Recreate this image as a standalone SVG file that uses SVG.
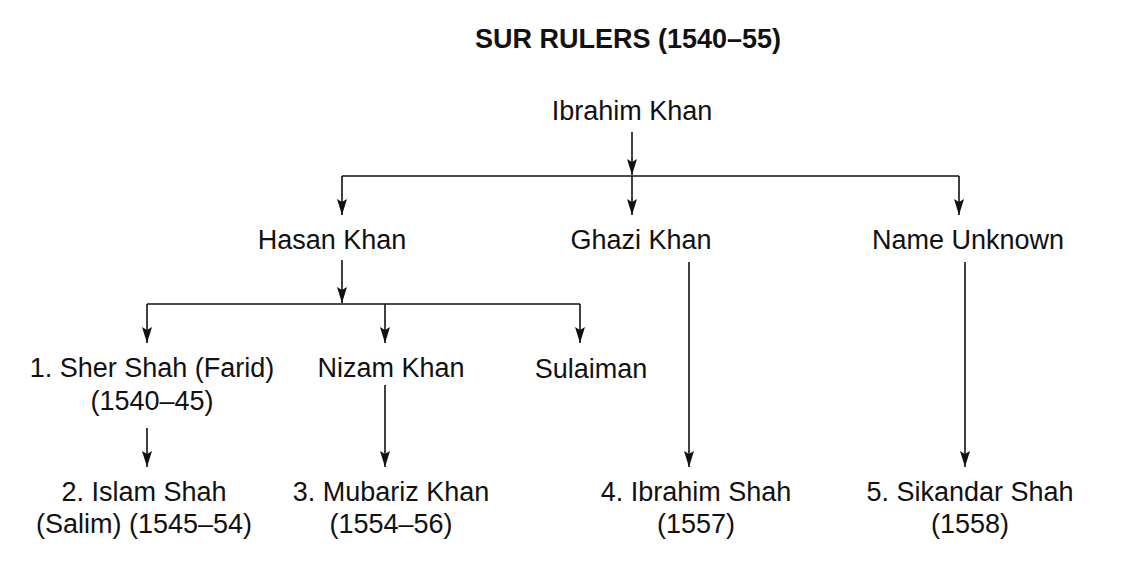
<svg xmlns="http://www.w3.org/2000/svg" width="1128" height="571" viewBox="0 0 1128 571">
<style>
.t{font-family:"Liberation Sans",Arial,Helvetica,sans-serif;font-size:27px;fill:#111;text-anchor:middle}
.h{font-family:"Liberation Sans",Arial,Helvetica,sans-serif;font-size:27px;font-weight:bold;fill:#111;text-anchor:middle}
.c{stroke:#111;stroke-width:1.6;fill:none}
.a{marker-end:url(#ah)}
</style>
<defs>
<marker id="ah" markerUnits="userSpaceOnUse" markerWidth="16" markerHeight="10" viewBox="0 0 16 10" refX="16" refY="5" orient="auto">
<path d="M0,0 L16,5 L0,10 L3,5 z" fill="#111"/>
</marker>
</defs>
<rect width="1128" height="571" fill="#fff"/>
<text class="h" x="628" y="48">SUR RULERS (1540–55)</text>
<g id="connectors">
<line class="c a" x1="632" y1="132" x2="632" y2="175"/>
<line class="c" x1="342" y1="176" x2="959" y2="176"/>
<line class="c a" x1="342" y1="176" x2="342" y2="215"/>
<line class="c a" x1="632" y1="176" x2="632" y2="215"/>
<line class="c a" x1="959" y1="176" x2="959" y2="215"/>
<line class="c a" x1="342" y1="260" x2="342" y2="303"/>
<line class="c" x1="147" y1="304" x2="580" y2="304"/>
<line class="c a" x1="147" y1="304" x2="147" y2="343"/>
<line class="c a" x1="385" y1="304" x2="385" y2="343"/>
<line class="c a" x1="580" y1="304" x2="580" y2="343"/>
<line class="c a" x1="147" y1="428" x2="147" y2="467"/>
<line class="c a" x1="385" y1="385" x2="385" y2="467"/>
<line class="c a" x1="689" y1="262" x2="689" y2="467"/>
<line class="c a" x1="965" y1="262" x2="965" y2="467"/>
</g>
<g id="ibrahim-khan"><text class="t" x="632" y="120">Ibrahim Khan</text></g>
<g id="hasan-khan"><text class="t" x="332" y="249">Hasan Khan</text></g>
<g id="ghazi-khan"><text class="t" x="641" y="249">Ghazi Khan</text></g>
<g id="name-unknown"><text class="t" x="968" y="249">Name Unknown</text></g>
<g id="sher-shah"><text class="t" x="152" y="377">1. Sher Shah (Farid)</text><text class="t" x="152" y="410">(1540–45)</text></g>
<g id="nizam-khan"><text class="t" x="391" y="377">Nizam Khan</text></g>
<g id="sulaiman"><text class="t" x="591" y="378">Sulaiman</text></g>
<g id="islam-shah"><text class="t" x="144" y="501">2. Islam Shah</text><text class="t" x="144" y="533">(Salim) (1545–54)</text></g>
<g id="mubariz-khan"><text class="t" x="391" y="501">3. Mubariz Khan</text><text class="t" x="391" y="533">(1554–56)</text></g>
<g id="ibrahim-shah"><text class="t" x="696" y="501">4. Ibrahim Shah</text><text class="t" x="696" y="533">(1557)</text></g>
<g id="sikandar-shah"><text class="t" x="970" y="501">5. Sikandar Shah</text><text class="t" x="970" y="533">(1558)</text></g>
</svg>
